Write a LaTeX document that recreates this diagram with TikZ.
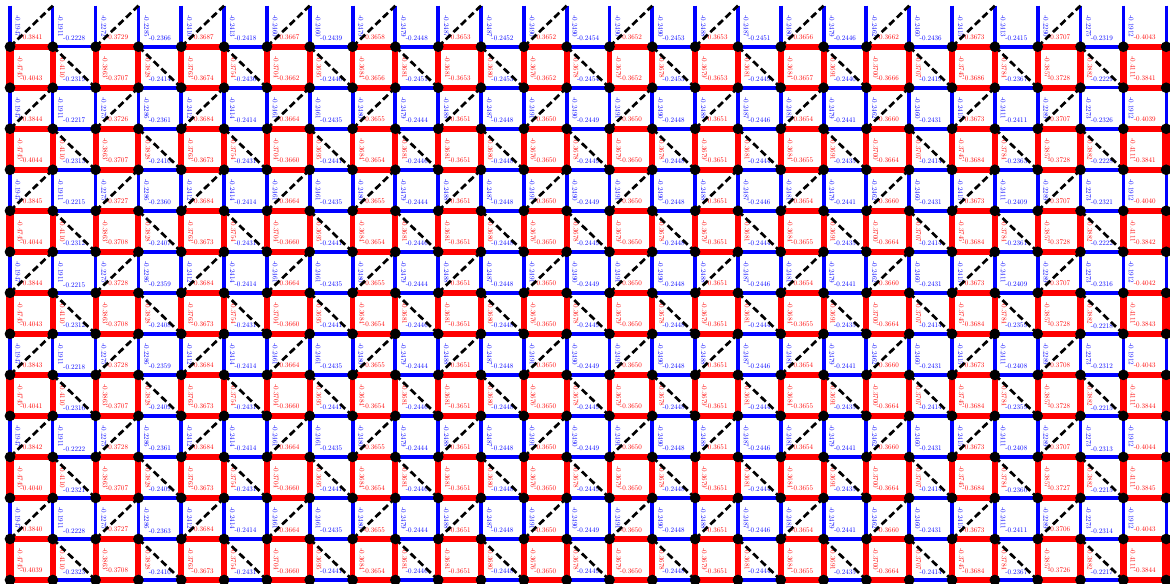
\documentclass[tikz,border=0pt]{standalone}
\usepackage{graphicx}
\usepackage{tikz}

% bond values, read left to right
\newcommand\MidE{-0.3684,-0.2414,-0.3664,-0.2435,-0.3655,-0.2444,-0.3651,-0.2448,-0.3650,-0.2449,-0.3650,-0.2448,-0.3651,-0.2446,-0.3654,-0.2441,-0.3660,-0.2431,-0.3673}
\newcommand\MidO{-0.3673,-0.2431,-0.3660,-0.2441,-0.3654,-0.2446,-0.3651,-0.2448,-0.3650,-0.2449,-0.3650,-0.2448,-0.3651,-0.2444,-0.3655,-0.2435,-0.3664,-0.2414,-0.3684}
\edef\HrowA{-0.3841,-0.2228,-0.3729,-0.2366,-0.3687,-0.2418,-0.3667,-0.2439,-0.3658,-0.2448,-0.3653,-0.2452,-0.3652,-0.2454,-0.3652,-0.2453,-0.3653,-0.2451,-0.3656,-0.2446,-0.3662,-0.2436,-0.3673,-0.2415,-0.3707,-0.2319,-0.4043}
\edef\HrowB{-0.4043,-0.2319,-0.3707,-0.2414,-0.3674,-0.2436,-0.3662,-0.2446,-0.3656,-0.2451,-0.3653,-0.2453,-0.3652,-0.2454,-0.3652,-0.2453,-0.3653,-0.2449,-0.3657,-0.2440,-0.3666,-0.2419,-0.3686,-0.2367,-0.3728,-0.2229,-0.3841}
\edef\HrowC{-0.3844,-0.2217,-0.3726,-0.2361,\MidE,-0.2411,-0.3707,-0.2326,-0.4039}
\edef\HrowD{-0.4044,-0.2313,-0.3707,-0.2410,\MidO,-0.2363,-0.3728,-0.2228,-0.3841}
\edef\HrowE{-0.3845,-0.2215,-0.3727,-0.2360,\MidE,-0.2409,-0.3707,-0.2321,-0.4040}
\edef\HrowF{-0.4044,-0.2312,-0.3708,-0.2407,\MidO,-0.2361,-0.3728,-0.2222,-0.3842}
\edef\HrowG{-0.3844,-0.2215,-0.3728,-0.2359,\MidE,-0.2409,-0.3707,-0.2316,-0.4042}
\edef\HrowH{-0.4043,-0.2312,-0.3708,-0.2408,\MidO,-0.2359,-0.3728,-0.2218,-0.3843}
\edef\HrowI{-0.3843,-0.2218,-0.3728,-0.2359,\MidE,-0.2408,-0.3708,-0.2312,-0.4043}
\edef\HrowJ{-0.4041,-0.2316,-0.3707,-0.2409,\MidO,-0.2359,-0.3728,-0.2215,-0.3844}
\edef\HrowK{-0.3842,-0.2222,-0.3728,-0.2361,\MidE,-0.2408,-0.3707,-0.2313,-0.4044}
\edef\HrowL{-0.4040,-0.2321,-0.3707,-0.2409,\MidO,-0.2360,-0.3727,-0.2215,-0.3845}
\edef\HrowM{-0.3840,-0.2228,-0.3727,-0.2363,\MidE,-0.2411,-0.3706,-0.2314,-0.4043}
\edef\HrowN{-0.4039,-0.2323,-0.3708,-0.2410,\MidO,-0.2367,-0.3726,-0.2217,-0.3844}
\newcommand\VerRed{-0.4745,-0.4110,-0.3863,-0.3828,-0.3763,-0.3754,-0.3704,-0.3695,-0.3684,-0.3681,-0.3681,-0.3680,-0.3676,-0.3678,-0.3679,-0.3678,-0.3679,-0.3681,-0.3684,-0.3691,-0.3700,-0.3707,-0.3745,-0.3784,-0.3857,-0.3882,-0.4111}
\newcommand\VerTop{-0.1947,-0.1911,-0.2272,-0.2285,-0.2410,-0.2413,-0.2460,-0.2460,-0.2479,-0.2479,-0.2487,-0.2487,-0.2490,-0.2490,-0.2490,-0.2490,-0.2488,-0.2487,-0.2480,-0.2479,-0.2462,-0.2460,-0.2415,-0.2413,-0.2290,-0.2275,-0.1912}
\newcommand\VerBlue{-0.1947,-0.1911,-0.2275,-0.2286,-0.2412,-0.2414,-0.2461,-0.2461,-0.2480,-0.2479,-0.2488,-0.2487,-0.2491,-0.2490,-0.2491,-0.2490,-0.2488,-0.2487,-0.2481,-0.2479,-0.2462,-0.2460,-0.2415,-0.2411,-0.2289,-0.2273,-0.1912}
\newcommand\lbltext[1]{\scalebox{0.47}{#1}}

\begin{document}
\begin{tikzpicture}[x=1cm, y=-0.958cm,
    site/.style={circle, fill=black, inner sep=0pt, minimum size=2.5mm},
    lbl/.style={font=\fontsize{10}{12}\selectfont, inner sep=0pt, midway, sloped, above=2.6pt},
    diag/.style={black, line width=1.8pt, dash pattern=on 4.6pt off 2.4pt}
]
    \clip (-0.2335,-1.1384) rectangle (27.09,13.0975);

    % lattice points
    \foreach \ci in {0,...,27}
        \foreach \ri in {-1,...,14}
            \coordinate (p-\ci-\ri) at (\ci,\ri);

    % horizontal bonds
    \foreach \ri/\vals in {0/\HrowA,1/\HrowB,2/\HrowC,3/\HrowD,4/\HrowE,5/\HrowF,6/\HrowG,
                          7/\HrowH,8/\HrowI,9/\HrowJ,10/\HrowK,11/\HrowL,12/\HrowM,13/\HrowN} {
        \edef\lst{\vals}
        \foreach \v [count=\ci from 0] in \lst {
            \pgfmathtruncatemacro\cn{\ci+1}
            \pgfmathsetmacro\w{-10.5*\v}
            \ifodd\ci\relax \def\col{blue}\else \def\col{red}\fi
            \draw[color=\col, line width=\w pt] (p-\ci-\ri) -- (p-\cn-\ri)
                node[lbl, text=\col] {\lbltext{\v}};
        }
    }

    % vertical bonds
    \foreach \ri/\vals/\col in {-1/\VerTop/blue,0/\VerRed/red,1/\VerBlue/blue,2/\VerRed/red,3/\VerBlue/blue,
                               4/\VerRed/red,5/\VerBlue/blue,6/\VerRed/red,7/\VerBlue/blue,8/\VerRed/red,
                               9/\VerBlue/blue,10/\VerRed/red,11/\VerBlue/blue,12/\VerRed/red} {
        \pgfmathtruncatemacro\rn{\ri+1}
        \edef\lst{\vals}
        \foreach \v [count=\ci from 0] in \lst {
            \pgfmathsetmacro\w{-10.5*\v}
            \draw[color=\col, line width=\w pt] (p-\ci-\ri) -- (p-\ci-\rn)
                node[lbl, text=\col] {\lbltext{\v}};
        }
    }

    % right edge column, cut by the frame
    \foreach \ri/\w/\col in {-1/2.04/blue,0/4.98/red,1/2.04/blue,2/4.98/red,3/2.04/blue,4/4.98/red,5/2.04/blue,
                            6/4.98/red,7/2.04/blue,8/4.98/red,9/2.04/blue,10/4.98/red,11/2.04/blue,12/4.98/red} {
        \pgfmathtruncatemacro\rn{\ri+1}
        \draw[color=\col, line width=\w pt] (p-27-\ri) -- (p-27-\rn);
    }

    % dashed diagonals
    \foreach \ci in {0,2,...,24}
        \foreach \ri in {-1,1,...,11} {
            \pgfmathtruncatemacro\cn{\ci+1}
            \pgfmathtruncatemacro\rn{\ri+1}
            \draw[diag] (p-\ci-\rn) -- (p-\cn-\ri);
        }
    \foreach \ci in {1,3,...,25}
        \foreach \ri in {0,2,...,12} {
            \pgfmathtruncatemacro\cn{\ci+1}
            \pgfmathtruncatemacro\rn{\ri+1}
            \draw[diag] (p-\ci-\ri) -- (p-\cn-\rn);
        }

    % sites
    \foreach \ci in {0,...,27}
        \foreach \ri in {0,...,13}
            \node[site] (s-\ci-\ri) at (p-\ci-\ri) {};
\end{tikzpicture}
\end{document}
